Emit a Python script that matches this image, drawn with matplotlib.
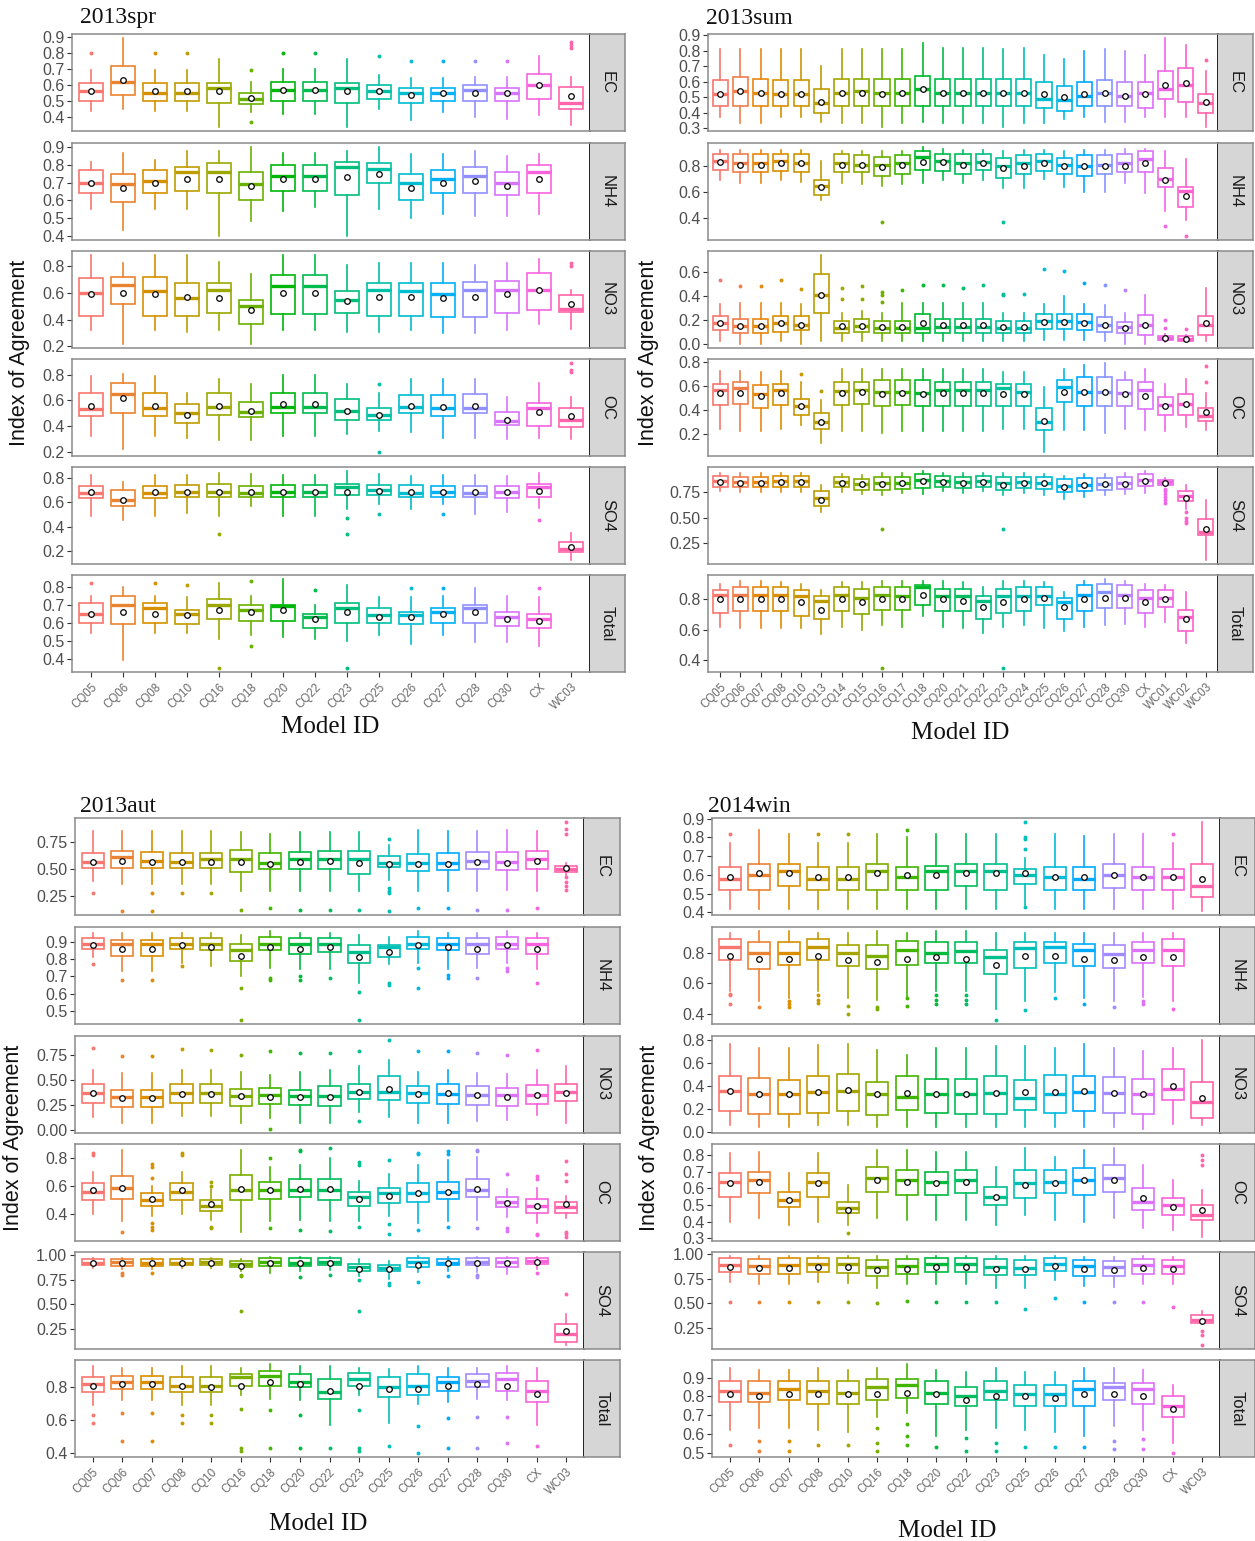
import numpy as np
import matplotlib
matplotlib.use("Agg")
import matplotlib.pyplot as plt

plt.rcParams['font.family'] = ['Liberation Sans', 'DejaVu Sans']

FACETS = ["EC", "NH4", "NO3", "OC", "SO4", "Total"]

# ---------------------------------------------------------------- 2013 spring
spr_models = ["CQ05", "CQ06", "CQ08", "CQ10", "CQ16", "CQ18", "CQ20", "CQ22",
              "CQ23", "CQ25", "CQ26", "CQ27", "CQ28", "CQ30", "CX", "WC03"]
# each row: whisker low, Q1, median, Q3, whisker high, mean
spr_EC = [
    [0.44, 0.50, 0.56, 0.61, 0.69, 0.56], [0.45, 0.54, 0.62, 0.72, 0.89, 0.63],
    [0.44, 0.50, 0.55, 0.61, 0.69, 0.56], [0.44, 0.50, 0.55, 0.61, 0.69, 0.56],
    [0.34, 0.49, 0.58, 0.61, 0.76, 0.56], [0.43, 0.48, 0.51, 0.55, 0.62, 0.52],
    [0.42, 0.50, 0.57, 0.62, 0.70, 0.57], [0.42, 0.50, 0.57, 0.62, 0.70, 0.57],
    [0.34, 0.49, 0.58, 0.61, 0.76, 0.56], [0.45, 0.51, 0.56, 0.60, 0.66, 0.56],
    [0.38, 0.49, 0.55, 0.58, 0.64, 0.54], [0.43, 0.50, 0.55, 0.58, 0.64, 0.55],
    [0.40, 0.50, 0.57, 0.60, 0.65, 0.55], [0.39, 0.50, 0.55, 0.58, 0.65, 0.55],
    [0.41, 0.51, 0.60, 0.67, 0.78, 0.60], [0.35, 0.45, 0.49, 0.59, 0.65, 0.53],
]
spr_EC_out = {"CQ05": [0.80], "CQ08": [0.80], "CQ10": [0.80], "CQ18": [0.69, 0.37],
              "CQ20": [0.80], "CQ22": [0.80], "CQ25": [0.78], "CQ26": [0.75],
              "CQ27": [0.75], "CQ28": [0.75], "CQ30": [0.75], "WC03": [0.87, 0.85, 0.83]}
spr_NH4 = [
    [0.55, 0.64, 0.70, 0.77, 0.82, 0.70], [0.43, 0.59, 0.69, 0.75, 0.87, 0.67],
    [0.55, 0.64, 0.71, 0.77, 0.83, 0.70], [0.55, 0.65, 0.76, 0.79, 0.88, 0.72],
    [0.40, 0.64, 0.76, 0.81, 0.88, 0.72], [0.48, 0.60, 0.69, 0.76, 0.90, 0.68],
    [0.54, 0.65, 0.74, 0.80, 0.87, 0.72], [0.56, 0.65, 0.74, 0.80, 0.87, 0.72],
    [0.40, 0.63, 0.79, 0.82, 0.88, 0.73], [0.55, 0.70, 0.78, 0.81, 0.90, 0.75],
    [0.50, 0.60, 0.70, 0.75, 0.86, 0.67], [0.52, 0.64, 0.72, 0.77, 0.86, 0.70],
    [0.51, 0.64, 0.74, 0.79, 0.88, 0.71], [0.51, 0.63, 0.70, 0.76, 0.85, 0.68],
    [0.52, 0.64, 0.76, 0.80, 0.86, 0.72], None,
]
spr_NH4_out = {}
spr_NO3 = [
    [0.32, 0.43, 0.60, 0.71, 0.88, 0.59], [0.22, 0.52, 0.66, 0.72, 0.82, 0.60],
    [0.32, 0.43, 0.61, 0.72, 0.88, 0.59], [0.31, 0.43, 0.56, 0.67, 0.88, 0.57],
    [0.32, 0.45, 0.62, 0.67, 0.83, 0.56], [0.22, 0.37, 0.50, 0.55, 0.74, 0.47],
    [0.32, 0.44, 0.65, 0.73, 0.88, 0.60], [0.32, 0.44, 0.65, 0.73, 0.88, 0.60],
    [0.31, 0.45, 0.55, 0.61, 0.81, 0.54], [0.31, 0.43, 0.62, 0.67, 0.82, 0.57],
    [0.32, 0.43, 0.61, 0.67, 0.82, 0.57], [0.30, 0.42, 0.59, 0.67, 0.82, 0.56],
    [0.30, 0.42, 0.62, 0.68, 0.81, 0.57], [0.32, 0.45, 0.62, 0.69, 0.82, 0.59],
    [0.37, 0.47, 0.62, 0.75, 0.85, 0.62], [0.33, 0.46, 0.48, 0.58, 0.62, 0.52],
]
spr_NO3_out = {"WC03": [0.82, 0.80]}
spr_OC = [
    [0.32, 0.48, 0.53, 0.66, 0.79, 0.56], [0.22, 0.50, 0.65, 0.74, 0.81, 0.62],
    [0.32, 0.48, 0.54, 0.66, 0.79, 0.56], [0.31, 0.42, 0.50, 0.57, 0.66, 0.49],
    [0.29, 0.49, 0.55, 0.66, 0.77, 0.56], [0.29, 0.47, 0.51, 0.59, 0.73, 0.52],
    [0.32, 0.50, 0.55, 0.66, 0.80, 0.57], [0.32, 0.50, 0.55, 0.66, 0.80, 0.57],
    [0.34, 0.45, 0.52, 0.61, 0.73, 0.52], [0.36, 0.45, 0.49, 0.54, 0.66, 0.49],
    [0.35, 0.50, 0.55, 0.64, 0.77, 0.56], [0.31, 0.48, 0.54, 0.64, 0.77, 0.55],
    [0.31, 0.50, 0.54, 0.65, 0.77, 0.56], [0.30, 0.41, 0.44, 0.51, 0.63, 0.45],
    [0.31, 0.40, 0.54, 0.58, 0.74, 0.51], [0.30, 0.39, 0.45, 0.54, 0.63, 0.48],
]
spr_OC_out = {"CQ25": [0.73, 0.20], "WC03": [0.89, 0.84, 0.82]}
spr_SO4 = [
    [0.49, 0.63, 0.67, 0.73, 0.82, 0.68], [0.45, 0.57, 0.62, 0.70, 0.76, 0.62],
    [0.49, 0.63, 0.67, 0.73, 0.82, 0.68], [0.51, 0.64, 0.68, 0.74, 0.82, 0.68],
    [0.49, 0.64, 0.68, 0.75, 0.84, 0.68], [0.57, 0.64, 0.67, 0.73, 0.83, 0.68],
    [0.49, 0.64, 0.68, 0.74, 0.82, 0.68], [0.49, 0.64, 0.68, 0.74, 0.82, 0.68],
    [0.54, 0.66, 0.72, 0.75, 0.85, 0.68], [0.58, 0.66, 0.70, 0.74, 0.83, 0.69],
    [0.54, 0.64, 0.67, 0.74, 0.81, 0.68], [0.58, 0.64, 0.68, 0.73, 0.82, 0.68],
    [0.50, 0.64, 0.67, 0.73, 0.82, 0.68], [0.52, 0.63, 0.68, 0.73, 0.81, 0.68],
    [0.55, 0.64, 0.72, 0.75, 0.84, 0.69], [0.13, 0.19, 0.22, 0.27, 0.35, 0.23],
]
spr_SO4_out = {"CQ16": [0.34], "CQ23": [0.47, 0.34], "CQ25": [0.50],
               "CQ27": [0.50], "CX": [0.45]}
spr_Total = [
    [0.54, 0.60, 0.65, 0.71, 0.75, 0.65], [0.39, 0.59, 0.70, 0.75, 0.80, 0.66],
    [0.54, 0.60, 0.68, 0.71, 0.75, 0.65], [0.54, 0.59, 0.65, 0.67, 0.74, 0.64],
    [0.51, 0.62, 0.70, 0.73, 0.82, 0.67], [0.53, 0.61, 0.67, 0.70, 0.75, 0.66],
    [0.52, 0.61, 0.69, 0.70, 0.84, 0.67], [0.51, 0.57, 0.63, 0.65, 0.70, 0.62],
    [0.50, 0.60, 0.68, 0.71, 0.81, 0.66], [0.53, 0.60, 0.64, 0.68, 0.74, 0.63],
    [0.48, 0.59, 0.64, 0.66, 0.74, 0.63], [0.53, 0.60, 0.66, 0.68, 0.75, 0.65],
    [0.49, 0.60, 0.68, 0.70, 0.79, 0.66], [0.49, 0.58, 0.63, 0.66, 0.75, 0.62],
    [0.47, 0.57, 0.62, 0.65, 0.74, 0.61], None,
]
spr_Total_out = {"CQ05": [0.82], "CQ08": [0.82], "CQ10": [0.81], "CQ16": [0.35],
                 "CQ18": [0.83, 0.47], "CQ22": [0.78], "CQ23": [0.35],
                 "CQ26": [0.79], "CQ27": [0.79], "CX": [0.79]}
spr_ticks = [[0.4, 0.5, 0.6, 0.7, 0.8, 0.9], [0.4, 0.5, 0.6, 0.7, 0.8, 0.9],
             [0.2, 0.4, 0.6, 0.8], [0.2, 0.4, 0.6, 0.8], [0.2, 0.4, 0.6, 0.8],
             [0.4, 0.5, 0.6, 0.7, 0.8]]

# ---------------------------------------------------------------- 2013 summer
sum_models = ["CQ05", "CQ06", "CQ07", "CQ08", "CQ10", "CQ13", "CQ14", "CQ15",
              "CQ16", "CQ17", "CQ18", "CQ20", "CQ21", "CQ22", "CQ23", "CQ24",
              "CQ25", "CQ26", "CQ27", "CQ28", "CQ30", "CX", "WC01", "WC02", "WC03"]
sum_EC = [
    [0.37, 0.44, 0.52, 0.61, 0.81, 0.52], [0.33, 0.44, 0.54, 0.63, 0.81, 0.54],
    [0.33, 0.44, 0.53, 0.62, 0.81, 0.53], [0.37, 0.44, 0.52, 0.61, 0.81, 0.52],
    [0.37, 0.44, 0.52, 0.61, 0.81, 0.52], [0.34, 0.40, 0.46, 0.55, 0.70, 0.47],
    [0.33, 0.44, 0.53, 0.62, 0.81, 0.53], [0.33, 0.44, 0.54, 0.62, 0.81, 0.53],
    [0.31, 0.44, 0.53, 0.62, 0.81, 0.52], [0.33, 0.44, 0.53, 0.62, 0.81, 0.53],
    [0.34, 0.44, 0.55, 0.64, 0.85, 0.55], [0.33, 0.44, 0.53, 0.62, 0.82, 0.53],
    [0.33, 0.44, 0.53, 0.62, 0.82, 0.53], [0.33, 0.44, 0.53, 0.62, 0.82, 0.53],
    [0.31, 0.44, 0.53, 0.62, 0.81, 0.53], [0.33, 0.44, 0.53, 0.62, 0.82, 0.53],
    [0.33, 0.43, 0.49, 0.60, 0.77, 0.52], [0.36, 0.41, 0.48, 0.57, 0.75, 0.50],
    [0.37, 0.44, 0.51, 0.60, 0.80, 0.52], [0.34, 0.44, 0.53, 0.61, 0.81, 0.53],
    [0.34, 0.44, 0.51, 0.60, 0.80, 0.51], [0.37, 0.43, 0.53, 0.60, 0.77, 0.52],
    [0.37, 0.49, 0.55, 0.67, 0.88, 0.58], [0.37, 0.47, 0.58, 0.69, 0.84, 0.59],
    [0.31, 0.40, 0.46, 0.52, 0.67, 0.47],
]
sum_EC_out = {"WC03": [0.74]}
sum_NH4 = [
    [0.69, 0.77, 0.84, 0.89, 0.92, 0.83], [0.67, 0.75, 0.82, 0.89, 0.92, 0.81],
    [0.67, 0.75, 0.82, 0.89, 0.92, 0.81], [0.69, 0.76, 0.84, 0.89, 0.92, 0.82],
    [0.68, 0.75, 0.82, 0.89, 0.92, 0.82], [0.54, 0.58, 0.65, 0.69, 0.84, 0.64],
    [0.67, 0.75, 0.82, 0.89, 0.91, 0.81], [0.66, 0.75, 0.81, 0.88, 0.91, 0.81],
    [0.65, 0.72, 0.81, 0.87, 0.91, 0.79], [0.66, 0.74, 0.82, 0.88, 0.91, 0.81],
    [0.67, 0.77, 0.87, 0.91, 0.94, 0.83], [0.69, 0.76, 0.84, 0.89, 0.93, 0.83],
    [0.67, 0.74, 0.82, 0.89, 0.92, 0.81], [0.69, 0.77, 0.83, 0.89, 0.92, 0.82],
    [0.63, 0.71, 0.80, 0.86, 0.91, 0.78], [0.63, 0.74, 0.82, 0.88, 0.92, 0.80],
    [0.70, 0.76, 0.84, 0.89, 0.92, 0.82], [0.64, 0.74, 0.81, 0.86, 0.91, 0.80],
    [0.60, 0.72, 0.80, 0.88, 0.92, 0.80], [0.60, 0.74, 0.81, 0.88, 0.92, 0.80],
    [0.67, 0.75, 0.82, 0.89, 0.93, 0.80], [0.59, 0.75, 0.85, 0.91, 0.93, 0.82],
    [0.46, 0.64, 0.70, 0.78, 0.91, 0.69], [0.39, 0.49, 0.61, 0.64, 0.85, 0.57],
    None,
]
sum_NH4_out = {"CQ16": [0.37], "CQ23": [0.37], "WC01": [0.34], "WC02": [0.27]}
sum_NO3 = [
    [0.02, 0.11, 0.17, 0.23, 0.33, 0.17], [0.00, 0.09, 0.15, 0.21, 0.34, 0.15],
    [0.00, 0.09, 0.15, 0.21, 0.34, 0.15], [0.02, 0.10, 0.17, 0.23, 0.34, 0.17],
    [0.00, 0.11, 0.16, 0.23, 0.33, 0.16], [0.02, 0.26, 0.41, 0.58, 0.74, 0.41],
    [0.02, 0.09, 0.13, 0.19, 0.26, 0.15], [0.02, 0.10, 0.15, 0.21, 0.27, 0.15],
    [0.02, 0.09, 0.13, 0.19, 0.26, 0.14], [0.02, 0.09, 0.13, 0.19, 0.34, 0.14],
    [0.02, 0.09, 0.13, 0.25, 0.34, 0.17], [0.02, 0.09, 0.14, 0.21, 0.34, 0.16],
    [0.02, 0.09, 0.14, 0.21, 0.34, 0.16], [0.02, 0.09, 0.14, 0.21, 0.34, 0.16],
    [0.02, 0.09, 0.13, 0.19, 0.26, 0.14], [0.02, 0.09, 0.13, 0.19, 0.26, 0.14],
    [0.03, 0.12, 0.19, 0.25, 0.33, 0.18], [0.03, 0.12, 0.19, 0.25, 0.40, 0.18],
    [0.03, 0.11, 0.18, 0.25, 0.33, 0.17], [0.02, 0.10, 0.16, 0.22, 0.32, 0.16],
    [0.00, 0.09, 0.14, 0.18, 0.26, 0.13], [0.00, 0.07, 0.16, 0.24, 0.41, 0.16],
    [0.01, 0.03, 0.05, 0.06, 0.08, 0.05], [0.01, 0.02, 0.04, 0.06, 0.07, 0.04],
    [0.02, 0.07, 0.16, 0.23, 0.47, 0.17],
]
sum_NO3_out = {"CQ05": [0.53], "CQ06": [0.48], "CQ07": [0.48], "CQ08": [0.53],
               "CQ10": [0.46], "CQ14": [0.47, 0.37], "CQ15": [0.48, 0.37],
               "CQ16": [0.43, 0.41, 0.35], "CQ17": [0.45], "CQ18": [0.49],
               "CQ20": [0.49], "CQ21": [0.47], "CQ22": [0.49], "CQ23": [0.42, 0.41],
               "CQ24": [0.42], "CQ25": [0.63], "CQ26": [0.61], "CQ27": [0.51],
               "CQ28": [0.49], "CQ30": [0.45], "WC01": [0.20, 0.13], "WC02": [0.12]}
sum_OC = [
    [0.24, 0.44, 0.57, 0.62, 0.73, 0.54], [0.22, 0.45, 0.58, 0.63, 0.73, 0.54],
    [0.22, 0.42, 0.53, 0.61, 0.72, 0.52], [0.24, 0.44, 0.57, 0.62, 0.73, 0.54],
    [0.27, 0.36, 0.43, 0.49, 0.63, 0.43], [0.12, 0.24, 0.30, 0.37, 0.48, 0.30],
    [0.22, 0.44, 0.56, 0.63, 0.74, 0.54], [0.22, 0.45, 0.57, 0.63, 0.74, 0.55],
    [0.21, 0.43, 0.55, 0.65, 0.74, 0.53], [0.22, 0.44, 0.55, 0.65, 0.74, 0.54],
    [0.22, 0.43, 0.54, 0.65, 0.74, 0.53], [0.22, 0.43, 0.57, 0.63, 0.74, 0.54],
    [0.22, 0.43, 0.57, 0.63, 0.74, 0.54], [0.22, 0.43, 0.57, 0.63, 0.74, 0.54],
    [0.24, 0.43, 0.58, 0.62, 0.72, 0.53], [0.24, 0.43, 0.55, 0.62, 0.72, 0.53],
    [0.05, 0.23, 0.30, 0.42, 0.59, 0.31], [0.23, 0.47, 0.59, 0.65, 0.74, 0.55],
    [0.23, 0.43, 0.55, 0.68, 0.78, 0.55], [0.21, 0.43, 0.55, 0.68, 0.79, 0.55],
    [0.24, 0.43, 0.54, 0.65, 0.72, 0.53], [0.23, 0.41, 0.57, 0.63, 0.74, 0.52],
    [0.22, 0.36, 0.44, 0.51, 0.62, 0.43], [0.26, 0.36, 0.45, 0.53, 0.66, 0.45],
    [0.23, 0.31, 0.35, 0.42, 0.54, 0.38],
]
sum_OC_out = {"CQ10": [0.70], "CQ13": [0.56], "WC03": [0.77, 0.63]}
sum_SO4 = [
    [0.76, 0.80, 0.86, 0.91, 0.94, 0.85], [0.75, 0.80, 0.85, 0.90, 0.94, 0.84],
    [0.75, 0.80, 0.85, 0.90, 0.94, 0.84], [0.75, 0.80, 0.86, 0.91, 0.94, 0.85],
    [0.75, 0.80, 0.86, 0.91, 0.94, 0.85], [0.55, 0.61, 0.69, 0.76, 0.82, 0.67],
    [0.75, 0.80, 0.85, 0.90, 0.93, 0.84], [0.73, 0.77, 0.83, 0.88, 0.92, 0.83],
    [0.72, 0.77, 0.84, 0.90, 0.94, 0.83], [0.74, 0.78, 0.84, 0.90, 0.94, 0.84],
    [0.73, 0.79, 0.87, 0.93, 0.96, 0.86], [0.76, 0.80, 0.86, 0.91, 0.94, 0.85],
    [0.74, 0.79, 0.85, 0.90, 0.94, 0.84], [0.76, 0.80, 0.86, 0.91, 0.94, 0.85],
    [0.72, 0.77, 0.84, 0.90, 0.94, 0.82], [0.74, 0.79, 0.85, 0.90, 0.94, 0.84],
    [0.72, 0.78, 0.84, 0.90, 0.93, 0.84], [0.68, 0.75, 0.81, 0.88, 0.91, 0.80],
    [0.70, 0.76, 0.82, 0.89, 0.93, 0.82], [0.72, 0.77, 0.83, 0.89, 0.93, 0.83],
    [0.73, 0.78, 0.84, 0.90, 0.94, 0.83], [0.74, 0.81, 0.87, 0.93, 0.96, 0.86],
    [0.81, 0.82, 0.85, 0.87, 0.89, 0.84], [0.58, 0.66, 0.71, 0.76, 0.82, 0.69],
    [0.08, 0.33, 0.36, 0.49, 0.67, 0.39],
]
sum_SO4_out = {"CQ16": [0.39], "CQ23": [0.39],
               "WC01": [0.78, 0.76, 0.73, 0.70, 0.67, 0.64],
               "WC02": [0.55, 0.50, 0.47, 0.45]}
sum_Total = [
    [0.62, 0.71, 0.83, 0.86, 0.90, 0.80], [0.61, 0.72, 0.83, 0.88, 0.92, 0.80],
    [0.61, 0.72, 0.83, 0.88, 0.92, 0.80], [0.61, 0.72, 0.83, 0.88, 0.91, 0.80],
    [0.61, 0.69, 0.82, 0.86, 0.90, 0.78], [0.57, 0.67, 0.79, 0.82, 0.86, 0.73],
    [0.62, 0.72, 0.83, 0.88, 0.91, 0.80], [0.60, 0.70, 0.81, 0.87, 0.91, 0.78],
    [0.63, 0.73, 0.83, 0.88, 0.92, 0.80], [0.62, 0.73, 0.82, 0.88, 0.92, 0.80],
    [0.69, 0.76, 0.88, 0.89, 0.92, 0.83], [0.62, 0.72, 0.82, 0.87, 0.92, 0.80],
    [0.61, 0.72, 0.82, 0.87, 0.91, 0.79], [0.58, 0.67, 0.79, 0.82, 0.88, 0.75],
    [0.62, 0.71, 0.82, 0.87, 0.92, 0.78], [0.63, 0.72, 0.82, 0.88, 0.92, 0.80],
    [0.61, 0.76, 0.82, 0.88, 0.91, 0.81], [0.59, 0.67, 0.78, 0.81, 0.85, 0.75],
    [0.62, 0.72, 0.83, 0.89, 0.92, 0.80], [0.63, 0.74, 0.85, 0.90, 0.93, 0.81],
    [0.64, 0.74, 0.83, 0.89, 0.92, 0.81], [0.62, 0.71, 0.81, 0.86, 0.90, 0.78],
    [0.65, 0.75, 0.81, 0.86, 0.89, 0.80], [0.51, 0.59, 0.68, 0.73, 0.85, 0.67],
    None,
]
sum_Total_out = {"CQ16": [0.35], "CQ23": [0.35]}
sum_ticks = [[0.3, 0.4, 0.5, 0.6, 0.7, 0.8, 0.9], [0.4, 0.6, 0.8],
             [0.0, 0.2, 0.4, 0.6], [0.2, 0.4, 0.6, 0.8], [0.25, 0.50, 0.75],
             [0.4, 0.6, 0.8]]

# ---------------------------------------------------------------- 2013 autumn
aut_models = ["CQ05", "CQ06", "CQ07", "CQ08", "CQ10", "CQ16", "CQ18", "CQ20",
              "CQ22", "CQ23", "CQ25", "CQ26", "CQ27", "CQ28", "CQ30", "CX", "WC03"]
aut_EC = [
    [0.39, 0.51, 0.57, 0.65, 0.85, 0.57], [0.36, 0.51, 0.61, 0.67, 0.85, 0.58],
    [0.36, 0.51, 0.58, 0.66, 0.85, 0.57], [0.36, 0.51, 0.57, 0.65, 0.85, 0.57],
    [0.36, 0.51, 0.59, 0.65, 0.85, 0.57], [0.30, 0.47, 0.59, 0.68, 0.84, 0.57],
    [0.30, 0.50, 0.56, 0.65, 0.82, 0.55], [0.30, 0.50, 0.59, 0.66, 0.84, 0.57],
    [0.30, 0.50, 0.59, 0.67, 0.84, 0.58], [0.30, 0.46, 0.59, 0.67, 0.84, 0.56],
    [0.40, 0.52, 0.56, 0.62, 0.72, 0.55], [0.30, 0.48, 0.56, 0.64, 0.86, 0.55],
    [0.30, 0.49, 0.56, 0.65, 0.85, 0.55], [0.30, 0.50, 0.58, 0.66, 0.85, 0.57],
    [0.31, 0.49, 0.57, 0.66, 0.86, 0.56], [0.30, 0.50, 0.59, 0.67, 0.85, 0.58],
    [0.45, 0.47, 0.50, 0.53, 0.56, 0.51],
]
aut_EC_out = {"CQ05": [0.28], "CQ06": [0.12], "CQ07": [0.28, 0.12], "CQ08": [0.28],
              "CQ10": [0.28], "CQ16": [0.13], "CQ18": [0.14], "CQ20": [0.13],
              "CQ22": [0.13], "CQ23": [0.13], "CQ25": [0.78, 0.33, 0.30, 0.28, 0.12],
              "CQ26": [0.14], "CQ27": [0.14], "CQ28": [0.13], "CQ30": [0.13],
              "CX": [0.14], "WC03": [0.93, 0.87, 0.82, 0.43, 0.38, 0.35, 0.31]}
aut_NH4 = [
    [0.81, 0.86, 0.89, 0.92, 0.95, 0.88], [0.73, 0.82, 0.89, 0.91, 0.95, 0.86],
    [0.73, 0.82, 0.89, 0.91, 0.95, 0.86], [0.78, 0.86, 0.89, 0.92, 0.95, 0.88],
    [0.76, 0.85, 0.89, 0.92, 0.95, 0.87], [0.70, 0.79, 0.85, 0.89, 0.94, 0.82],
    [0.75, 0.85, 0.89, 0.93, 0.96, 0.87], [0.74, 0.83, 0.89, 0.92, 0.95, 0.86],
    [0.74, 0.84, 0.89, 0.92, 0.95, 0.87], [0.66, 0.78, 0.84, 0.88, 0.94, 0.81],
    [0.77, 0.81, 0.87, 0.88, 0.93, 0.84], [0.78, 0.86, 0.89, 0.93, 0.96, 0.88],
    [0.74, 0.85, 0.89, 0.92, 0.95, 0.87], [0.75, 0.83, 0.89, 0.92, 0.95, 0.86],
    [0.78, 0.86, 0.89, 0.93, 0.96, 0.88], [0.74, 0.83, 0.89, 0.92, 0.95, 0.86],
    None,
]
aut_NH4_out = {"CQ05": [0.77], "CQ06": [0.68], "CQ07": [0.68], "CQ08": [0.76],
               "CQ16": [0.63, 0.45], "CQ18": [0.69, 0.68], "CQ20": [0.70, 0.68],
               "CQ22": [0.69], "CQ23": [0.61, 0.45], "CQ25": [0.66, 0.65],
               "CQ26": [0.75, 0.63], "CQ27": [0.71, 0.69], "CQ28": [0.69],
               "CQ30": [0.75, 0.73], "CX": [0.66]}
aut_NO3 = [
    [0.13, 0.27, 0.37, 0.46, 0.60, 0.37], [0.07, 0.23, 0.33, 0.40, 0.57, 0.32],
    [0.07, 0.23, 0.33, 0.40, 0.57, 0.32], [0.14, 0.27, 0.37, 0.46, 0.60, 0.36],
    [0.14, 0.27, 0.37, 0.46, 0.60, 0.36], [0.07, 0.24, 0.34, 0.41, 0.58, 0.34],
    [0.12, 0.26, 0.35, 0.42, 0.55, 0.33], [0.07, 0.25, 0.34, 0.40, 0.58, 0.33],
    [0.07, 0.24, 0.34, 0.44, 0.60, 0.33], [0.18, 0.31, 0.38, 0.46, 0.64, 0.38],
    [0.13, 0.30, 0.38, 0.54, 0.70, 0.41], [0.07, 0.27, 0.37, 0.44, 0.58, 0.36],
    [0.07, 0.26, 0.36, 0.46, 0.60, 0.37], [0.09, 0.25, 0.35, 0.44, 0.57, 0.35],
    [0.10, 0.24, 0.35, 0.42, 0.56, 0.33], [0.15, 0.26, 0.35, 0.45, 0.60, 0.35],
    [0.07, 0.29, 0.38, 0.46, 0.64, 0.37],
]
aut_NO3_out = {"CQ05": [0.82], "CQ06": [0.74], "CQ07": [0.74], "CQ08": [0.81],
               "CQ10": [0.80], "CQ16": [0.75], "CQ18": [0.79, 0.01], "CQ20": [0.77],
               "CQ22": [0.77], "CQ23": [0.79, 0.09], "CQ25": [0.90], "CQ26": [0.79],
               "CQ27": [0.79], "CQ28": [0.77], "CQ30": [0.75], "CX": [0.80]}
aut_OC = [
    [0.40, 0.50, 0.56, 0.62, 0.70, 0.57], [0.35, 0.51, 0.59, 0.67, 0.86, 0.59],
    [0.39, 0.46, 0.50, 0.55, 0.60, 0.51], [0.40, 0.50, 0.56, 0.62, 0.70, 0.57],
    [0.36, 0.42, 0.46, 0.50, 0.58, 0.47], [0.27, 0.50, 0.57, 0.68, 0.86, 0.58],
    [0.35, 0.51, 0.57, 0.63, 0.74, 0.57], [0.36, 0.52, 0.57, 0.65, 0.75, 0.58],
    [0.35, 0.50, 0.57, 0.65, 0.80, 0.58], [0.35, 0.46, 0.52, 0.56, 0.64, 0.51],
    [0.39, 0.48, 0.55, 0.59, 0.69, 0.53], [0.34, 0.49, 0.55, 0.62, 0.75, 0.55],
    [0.35, 0.51, 0.56, 0.63, 0.79, 0.56], [0.36, 0.52, 0.57, 0.65, 0.81, 0.58],
    [0.38, 0.45, 0.49, 0.52, 0.58, 0.48], [0.34, 0.41, 0.46, 0.51, 0.59, 0.46],
    [0.37, 0.41, 0.45, 0.49, 0.53, 0.47],
]
aut_OC_out = {"CQ05": [0.84, 0.82], "CQ06": [0.27],
              "CQ07": [0.76, 0.74, 0.66, 0.34, 0.31, 0.29], "CQ08": [0.84, 0.82],
              "CQ10": [0.63, 0.60, 0.31, 0.30], "CQ18": [0.80, 0.30],
              "CQ20": [0.86, 0.85, 0.29], "CQ22": [0.87, 0.28],
              "CQ23": [0.77, 0.75, 0.31], "CQ25": [0.79, 0.33, 0.26],
              "CQ26": [0.84, 0.83, 0.29], "CQ27": [0.85, 0.83, 0.31],
              "CQ28": [0.86, 0.85, 0.30], "CQ30": [0.69, 0.30, 0.28],
              "CX": [0.67, 0.65, 0.26, 0.25], "WC03": [0.78, 0.69, 0.64, 0.27, 0.26, 0.24]}
aut_SO4 = [
    [0.87, 0.90, 0.92, 0.96, 0.97, 0.92], [0.86, 0.89, 0.93, 0.96, 0.97, 0.92],
    [0.86, 0.89, 0.92, 0.96, 0.97, 0.92], [0.87, 0.90, 0.92, 0.96, 0.97, 0.92],
    [0.87, 0.90, 0.93, 0.96, 0.97, 0.92], [0.84, 0.88, 0.91, 0.94, 0.96, 0.89],
    [0.82, 0.89, 0.93, 0.97, 0.98, 0.92], [0.84, 0.89, 0.92, 0.97, 0.98, 0.92],
    [0.85, 0.90, 0.93, 0.97, 0.98, 0.92], [0.79, 0.84, 0.88, 0.91, 0.96, 0.86],
    [0.76, 0.84, 0.87, 0.90, 0.94, 0.86], [0.83, 0.88, 0.93, 0.97, 0.99, 0.90],
    [0.84, 0.90, 0.92, 0.96, 0.98, 0.92], [0.83, 0.90, 0.93, 0.97, 0.98, 0.92],
    [0.81, 0.88, 0.93, 0.97, 0.98, 0.92], [0.86, 0.91, 0.94, 0.97, 0.98, 0.93],
    [0.09, 0.12, 0.20, 0.30, 0.40, 0.23],
]
aut_SO4_out = {"CQ06": [0.82, 0.80], "CQ07": [0.82], "CQ16": [0.80, 0.79, 0.43],
               "CQ20": [0.78], "CQ22": [0.80], "CQ23": [0.75, 0.43],
               "CQ25": [0.72, 0.70], "CQ26": [0.73], "CQ27": [0.79],
               "CQ28": [0.80, 0.78], "CX": [0.82], "WC03": [0.61]}
aut_Total = [
    [0.69, 0.77, 0.82, 0.86, 0.93, 0.81], [0.72, 0.79, 0.83, 0.87, 0.92, 0.82],
    [0.72, 0.79, 0.83, 0.87, 0.92, 0.82], [0.69, 0.77, 0.81, 0.86, 0.93, 0.81],
    [0.69, 0.77, 0.81, 0.86, 0.93, 0.80], [0.75, 0.81, 0.86, 0.88, 0.92, 0.81],
    [0.73, 0.81, 0.87, 0.90, 0.94, 0.83], [0.72, 0.80, 0.83, 0.88, 0.93, 0.82],
    [0.57, 0.73, 0.77, 0.85, 0.93, 0.78], [0.75, 0.81, 0.85, 0.89, 0.92, 0.81],
    [0.58, 0.74, 0.80, 0.86, 0.91, 0.79], [0.70, 0.75, 0.81, 0.88, 0.93, 0.79],
    [0.71, 0.78, 0.83, 0.86, 0.92, 0.81], [0.73, 0.80, 0.84, 0.88, 0.92, 0.82],
    [0.72, 0.78, 0.85, 0.89, 0.93, 0.81], [0.57, 0.71, 0.78, 0.84, 0.92, 0.76],
    None,
]
aut_Total_out = {"CQ05": [0.63, 0.58], "CQ06": [0.64, 0.47], "CQ07": [0.64, 0.47],
                 "CQ08": [0.63, 0.58], "CQ10": [0.63, 0.58], "CQ16": [0.67, 0.43, 0.41],
                 "CQ18": [0.66, 0.43], "CQ20": [0.63, 0.43], "CQ22": [0.43],
                 "CQ23": [0.66, 0.43, 0.41], "CQ25": [0.44], "CQ26": [0.56, 0.40],
                 "CQ27": [0.61, 0.43], "CQ28": [0.62, 0.43], "CQ30": [0.62, 0.46],
                 "CX": [0.44]}
aut_ticks = [[0.25, 0.50, 0.75], [0.5, 0.6, 0.7, 0.8, 0.9], [0.00, 0.25, 0.50, 0.75],
             [0.4, 0.6, 0.8], [0.25, 0.50, 0.75, 1.00], [0.4, 0.6, 0.8]]

# ---------------------------------------------------------------- 2014 winter
win_models = ["CQ05", "CQ06", "CQ07", "CQ08", "CQ10", "CQ16", "CQ18", "CQ20",
              "CQ22", "CQ23", "CQ25", "CQ26", "CQ27", "CQ28", "CQ30", "CX", "WC03"]
win_EC = [
    [0.42, 0.52, 0.58, 0.64, 0.77, 0.59], [0.42, 0.52, 0.60, 0.66, 0.84, 0.61],
    [0.42, 0.54, 0.62, 0.66, 0.82, 0.61], [0.42, 0.52, 0.58, 0.64, 0.77, 0.59],
    [0.42, 0.52, 0.58, 0.64, 0.77, 0.59], [0.42, 0.52, 0.62, 0.66, 0.82, 0.61],
    [0.42, 0.52, 0.59, 0.64, 0.80, 0.60], [0.42, 0.52, 0.62, 0.65, 0.82, 0.60],
    [0.42, 0.54, 0.62, 0.66, 0.82, 0.61], [0.42, 0.52, 0.62, 0.66, 0.82, 0.61],
    [0.44, 0.55, 0.60, 0.63, 0.69, 0.61], [0.42, 0.52, 0.59, 0.64, 0.82, 0.59],
    [0.42, 0.52, 0.58, 0.64, 0.81, 0.59], [0.42, 0.53, 0.60, 0.66, 0.82, 0.60],
    [0.42, 0.52, 0.59, 0.64, 0.82, 0.59], [0.42, 0.52, 0.59, 0.63, 0.77, 0.59],
    [0.41, 0.48, 0.54, 0.66, 0.88, 0.58],
]
win_EC_out = {"CQ05": [0.82], "CQ08": [0.82], "CQ10": [0.82], "CQ18": [0.84],
              "CQ25": [0.88, 0.80, 0.79, 0.74, 0.43], "CX": [0.82]}
win_NH4 = [
    [0.55, 0.75, 0.84, 0.89, 0.93, 0.78], [0.48, 0.69, 0.80, 0.87, 0.94, 0.76],
    [0.50, 0.72, 0.80, 0.87, 0.94, 0.76], [0.55, 0.75, 0.84, 0.89, 0.93, 0.78],
    [0.50, 0.71, 0.80, 0.85, 0.93, 0.75], [0.49, 0.69, 0.78, 0.85, 0.94, 0.74],
    [0.51, 0.72, 0.82, 0.88, 0.93, 0.76], [0.55, 0.73, 0.80, 0.87, 0.94, 0.77],
    [0.55, 0.73, 0.81, 0.87, 0.94, 0.76], [0.43, 0.66, 0.77, 0.82, 0.93, 0.72],
    [0.48, 0.70, 0.83, 0.87, 0.93, 0.78], [0.54, 0.73, 0.84, 0.87, 0.93, 0.78],
    [0.50, 0.71, 0.82, 0.86, 0.93, 0.76], [0.48, 0.70, 0.79, 0.85, 0.93, 0.75],
    [0.51, 0.73, 0.82, 0.87, 0.93, 0.77], [0.48, 0.71, 0.82, 0.89, 0.93, 0.77],
    None,
]
win_NH4_out = {"CQ05": [0.53, 0.52, 0.46], "CQ06": [0.44], "CQ07": [0.48, 0.46, 0.44],
               "CQ08": [0.52, 0.49, 0.47], "CQ10": [0.45, 0.40], "CQ16": [0.44, 0.43],
               "CQ18": [0.50, 0.45], "CQ20": [0.52, 0.49, 0.46],
               "CQ22": [0.52, 0.49, 0.46], "CQ23": [0.36], "CQ25": [0.42],
               "CQ26": [0.50], "CQ27": [0.46], "CQ28": [0.44], "CQ30": [0.48, 0.46],
               "CX": [0.43]}
win_NO3 = [
    [0.06, 0.18, 0.36, 0.49, 0.77, 0.36], [0.04, 0.16, 0.33, 0.47, 0.73, 0.33],
    [0.04, 0.16, 0.33, 0.45, 0.73, 0.33], [0.06, 0.17, 0.35, 0.49, 0.76, 0.35],
    [0.06, 0.18, 0.36, 0.51, 0.77, 0.37], [0.04, 0.15, 0.33, 0.44, 0.72, 0.33],
    [0.04, 0.19, 0.31, 0.49, 0.67, 0.34], [0.04, 0.17, 0.33, 0.46, 0.73, 0.33],
    [0.04, 0.16, 0.33, 0.46, 0.73, 0.33], [0.04, 0.16, 0.34, 0.49, 0.75, 0.34],
    [0.04, 0.19, 0.30, 0.45, 0.75, 0.35], [0.04, 0.17, 0.33, 0.50, 0.73, 0.35],
    [0.04, 0.18, 0.35, 0.49, 0.77, 0.36], [0.04, 0.17, 0.34, 0.48, 0.73, 0.34],
    [0.03, 0.16, 0.33, 0.46, 0.71, 0.33], [0.07, 0.28, 0.38, 0.55, 0.73, 0.40],
    [0.06, 0.12, 0.26, 0.44, 0.80, 0.30],
]
win_NO3_out = {}
win_OC = [
    [0.40, 0.55, 0.64, 0.69, 0.81, 0.63], [0.42, 0.57, 0.65, 0.70, 0.82, 0.64],
    [0.38, 0.49, 0.53, 0.58, 0.69, 0.53], [0.40, 0.55, 0.64, 0.69, 0.81, 0.63],
    [0.38, 0.45, 0.48, 0.52, 0.62, 0.47], [0.42, 0.58, 0.66, 0.73, 0.83, 0.65],
    [0.41, 0.56, 0.65, 0.71, 0.83, 0.64], [0.41, 0.56, 0.64, 0.70, 0.82, 0.63],
    [0.41, 0.57, 0.65, 0.71, 0.82, 0.64], [0.38, 0.50, 0.55, 0.61, 0.73, 0.55],
    [0.44, 0.54, 0.63, 0.71, 0.84, 0.62], [0.41, 0.57, 0.64, 0.71, 0.79, 0.63],
    [0.40, 0.56, 0.65, 0.72, 0.83, 0.65], [0.42, 0.58, 0.66, 0.74, 0.84, 0.65],
    [0.36, 0.47, 0.52, 0.60, 0.74, 0.54], [0.35, 0.44, 0.50, 0.54, 0.65, 0.49],
    [0.31, 0.41, 0.44, 0.50, 0.59, 0.47],
]
win_OC_out = {"CQ10": [0.33], "WC03": [0.80, 0.77, 0.74]}
win_SO4 = [
    [0.72, 0.82, 0.89, 0.96, 0.98, 0.87], [0.70, 0.80, 0.88, 0.95, 0.98, 0.86],
    [0.70, 0.80, 0.89, 0.96, 0.98, 0.86], [0.72, 0.82, 0.90, 0.96, 0.98, 0.87],
    [0.71, 0.81, 0.90, 0.96, 0.98, 0.87], [0.66, 0.78, 0.87, 0.94, 0.98, 0.84],
    [0.70, 0.80, 0.88, 0.95, 0.98, 0.85], [0.70, 0.82, 0.90, 0.96, 0.98, 0.87],
    [0.70, 0.82, 0.90, 0.96, 0.98, 0.87], [0.66, 0.79, 0.87, 0.95, 0.98, 0.85],
    [0.66, 0.79, 0.86, 0.94, 0.98, 0.85], [0.74, 0.83, 0.90, 0.96, 0.98, 0.88],
    [0.68, 0.78, 0.88, 0.94, 0.97, 0.85], [0.67, 0.78, 0.87, 0.93, 0.97, 0.84],
    [0.70, 0.80, 0.89, 0.95, 0.98, 0.86], [0.70, 0.80, 0.88, 0.94, 0.97, 0.85],
    [0.29, 0.30, 0.33, 0.38, 0.42, 0.32],
]
win_SO4_out = {"CQ05": [0.51], "CQ06": [0.51], "CQ07": [0.51], "CQ08": [0.51],
               "CQ10": [0.51], "CQ16": [0.50], "CQ18": [0.53], "CQ20": [0.51],
               "CQ22": [0.51], "CQ23": [0.51], "CQ25": [0.44], "CQ26": [0.56],
               "CQ27": [0.51], "CQ28": [0.51], "CQ30": [0.51], "CX": [0.46],
               "WC03": [0.22, 0.18, 0.08]}
win_Total = [
    [0.62, 0.77, 0.83, 0.88, 0.95, 0.81], [0.63, 0.77, 0.82, 0.88, 0.94, 0.80],
    [0.63, 0.78, 0.84, 0.88, 0.94, 0.81], [0.62, 0.76, 0.83, 0.88, 0.95, 0.81],
    [0.61, 0.76, 0.82, 0.88, 0.94, 0.81], [0.69, 0.78, 0.85, 0.89, 0.95, 0.81],
    [0.71, 0.79, 0.86, 0.89, 0.97, 0.82], [0.59, 0.76, 0.82, 0.88, 0.94, 0.81],
    [0.62, 0.75, 0.80, 0.85, 0.93, 0.78], [0.63, 0.78, 0.83, 0.88, 0.95, 0.80],
    [0.62, 0.75, 0.81, 0.86, 0.93, 0.80], [0.61, 0.75, 0.81, 0.86, 0.93, 0.79],
    [0.59, 0.75, 0.84, 0.88, 0.95, 0.81], [0.64, 0.78, 0.85, 0.87, 0.95, 0.81],
    [0.62, 0.76, 0.84, 0.87, 0.94, 0.80], [0.55, 0.69, 0.75, 0.80, 0.86, 0.73],
    None,
]
win_Total_out = {"CQ05": [0.54], "CQ06": [0.56, 0.51], "CQ07": [0.56, 0.51],
                 "CQ08": [0.54], "CQ10": [0.54], "CQ16": [0.63, 0.55, 0.51],
                 "CQ18": [0.65, 0.59, 0.54], "CQ20": [0.53], "CQ22": [0.58, 0.51],
                 "CQ23": [0.55, 0.51], "CQ25": [0.53], "CQ26": [0.53], "CQ27": [0.53],
                 "CQ28": [0.56, 0.52], "CQ30": [0.57, 0.52], "CX": [0.50]}
win_ticks = [[0.4, 0.5, 0.6, 0.7, 0.8, 0.9], [0.4, 0.6, 0.8],
             [0.0, 0.2, 0.4, 0.6, 0.8], [0.3, 0.4, 0.5, 0.6, 0.7, 0.8],
             [0.25, 0.50, 0.75, 1.00], [0.5, 0.6, 0.7, 0.8, 0.9]]

PANELS = [
    ("2013spr", spr_models,
     [spr_EC, spr_NH4, spr_NO3, spr_OC, spr_SO4, spr_Total],
     [spr_EC_out, spr_NH4_out, spr_NO3_out, spr_OC_out, spr_SO4_out, spr_Total_out],
     spr_ticks),
    ("2013sum", sum_models,
     [sum_EC, sum_NH4, sum_NO3, sum_OC, sum_SO4, sum_Total],
     [sum_EC_out, sum_NH4_out, sum_NO3_out, sum_OC_out, sum_SO4_out, sum_Total_out],
     sum_ticks),
    ("2013aut", aut_models,
     [aut_EC, aut_NH4, aut_NO3, aut_OC, aut_SO4, aut_Total],
     [aut_EC_out, aut_NH4_out, aut_NO3_out, aut_OC_out, aut_SO4_out, aut_Total_out],
     aut_ticks),
    ("2014win", win_models,
     [win_EC, win_NH4, win_NO3, win_OC, win_SO4, win_Total],
     [win_EC_out, win_NH4_out, win_NO3_out, win_OC_out, win_SO4_out, win_Total_out],
     win_ticks),
]

# ---------------------------------------------------------------- layout (px)
W, H = 1255, 1541
TOP_ROWS = [34, 143, 251, 359, 467, 575]
BOT_ROWS = [818, 927, 1036, 1144, 1252, 1360]
FACET_H = 97
# x0, x1 (plot area), strip right edge, facet tops, title xy, ylabel xy, xlabel xy
LAYOUT = [
    (72, 590, 625, TOP_ROWS, (80, 18), (20, 353), (330, 727)),
    (708, 1218, 1253, TOP_ROWS, (706, 18), (648, 353), (960, 733)),
    (75, 584, 620, BOT_ROWS, (80, 807), (14, 1138), (318, 1524)),
    (712, 1220, 1255, BOT_ROWS, (708, 807), (650, 1138), (947, 1531)),
]

# hue (HCL degrees) along the model axis, from first to last model
HUE_T = [0.0, 0.2, 0.31, 0.42, 0.5, 0.58, 0.67, 0.73, 0.79, 0.85, 0.92, 1.0]
HUE_H = [15, 70, 105, 133, 147, 172, 203, 228, 262, 288, 312, 348]


def hcl_to_rgb(h_deg, c=100.0, l=65.0):
    """Polar LUV (HCL) to sRGB, D65 white."""
    xn, yn, zn = 0.95047, 1.0, 1.08883
    un = 4 * xn / (xn + 15 * yn + 3 * zn)
    vn = 9 * yn / (xn + 15 * yn + 3 * zn)
    m = np.array([[3.2404542, -1.5371385, -0.4985314],
                  [-0.9692660, 1.8760108, 0.0415560],
                  [0.0556434, -0.2040259, 1.0572252]])
    h = np.radians(h_deg)
    u, v = c * np.cos(h), c * np.sin(h)
    y = ((l + 16) / 116.0) ** 3
    up = u / (13 * l) + un
    vp = v / (13 * l) + vn
    x = y * 9 * up / (4 * vp)
    z = y * (12 - 3 * up - 20 * vp) / (4 * vp)
    rgb = m @ np.array([x, y, z])
    rgb = np.where(rgb <= 0.0031308, 12.92 * rgb,
                   1.055 * np.abs(rgb) ** (1 / 2.4) - 0.055)
    return tuple(np.clip(rgb, 0, 1))


def model_colors(n):
    t = np.linspace(0, 1, n)
    return [hcl_to_rgb(h) for h in np.interp(t, HUE_T, HUE_H)]


def fmt_ticks(ticks):
    two = any(abs(round(t * 10) - t * 10) > 1e-6 for t in ticks)
    return [("%.2f" % t) if two else ("%.1f" % t) for t in ticks]


def add_px_axes(fig, x0, y0, x1, y1):
    return fig.add_axes([x0 / W, 1 - y1 / H, (x1 - x0) / W, (y1 - y0) / H])


fig = plt.figure(figsize=(W / 100, H / 100), dpi=100)
fig.patch.set_facecolor("white")

SERIF = ["Liberation Serif", "DejaVu Serif"]

for (title, models, facet_rows, facet_out, ticks), lay in zip(PANELS, LAYOUT):
    x0, x1, xs, rows, tpos, ylpos, xlpos = lay
    n = len(models)
    colors = model_colors(n)
    for k, facet in enumerate(FACETS):
        top = rows[k]
        ax = add_px_axes(fig, x0, top, x1, top + FACET_H)
        data = facet_rows[k]
        outs = facet_out[k]
        vals = []
        for i, row in enumerate(data):
            if row is None:
                continue
            lo, q1, med, q3, hi, mean = row
            fl = outs.get(models[i], [])
            vals += [lo, hi] + list(fl)
            col = colors[i]
            stat = dict(whislo=lo, q1=q1, med=med, q3=q3, whishi=hi, fliers=fl)
            ax.bxp([stat], positions=[i + 1], widths=0.75, showcaps=False,
                   showfliers=True, patch_artist=True, manage_ticks=False,
                   boxprops=dict(facecolor="white", edgecolor=col, linewidth=1.2),
                   whiskerprops=dict(color=col, linewidth=1.2),
                   medianprops=dict(color=col, linewidth=2.4, solid_capstyle="butt"),
                   flierprops=dict(marker="o", markerfacecolor=col,
                                   markeredgecolor="none", markersize=2.8))
            ax.plot([i + 1], [mean], "o", mfc="white", mec="black", ms=4.0,
                    mew=0.9, zorder=6)
        lo_v, hi_v = min(vals), max(vals)
        pad = 0.05 * (hi_v - lo_v)
        ax.set_ylim(lo_v - pad, hi_v + pad)
        ax.set_xlim(0.4, n + 0.6)
        ax.set_yticks(ticks[k])
        ax.set_yticklabels(fmt_ticks(ticks[k]), fontsize=11.5, color="#4D4D4D")
        ax.tick_params(axis="y", length=3.5, width=0.8, color="#333333", pad=2)
        ax.set_xticks(np.arange(1, n + 1))
        if k == len(FACETS) - 1:
            ax.set_xticklabels(models, rotation=45, ha="right", va="top",
                               rotation_mode="anchor", fontsize=8.3, color="#6A6A6A")
            ax.tick_params(axis="x", length=3.5, width=0.8, color="#333333", pad=3)
        else:
            ax.tick_params(axis="x", bottom=False, labelbottom=False)
        for sp in ax.spines.values():
            sp.set_color("#8A8A8A")
            sp.set_linewidth(1.1)
        ax.spines["right"].set_color("#222222")
        ax.spines["right"].set_linewidth(1.4)

        # facet strip on the right
        sax = add_px_axes(fig, x1, top, xs, top + FACET_H)
        sax.set_facecolor("#D6D6D6")
        sax.set_xticks([])
        sax.set_yticks([])
        for sp in sax.spines.values():
            sp.set_color("#8A8A8A")
            sp.set_linewidth(1.1)
        sax.spines["left"].set_visible(False)
        sax.text(0.5, 0.5, facet, rotation=-90, ha="center", va="center",
                 fontsize=12, color="#1A1A1A", transform=sax.transAxes)

    fig.text(tpos[0] / W, 1 - tpos[1] / H, title, ha="left", va="center",
             fontsize=17, family=SERIF, color="#111111")
    fig.text(ylpos[0] / W, 1 - ylpos[1] / H, "Index of Agreement", rotation=90,
             ha="center", va="center", fontsize=15.5, color="#111111")
    fig.text(xlpos[0] / W, 1 - xlpos[1] / H, "Model ID", ha="center", va="center",
             fontsize=18, family=SERIF, color="#111111")

fig.savefig("out.png", dpi=100, facecolor="white")
